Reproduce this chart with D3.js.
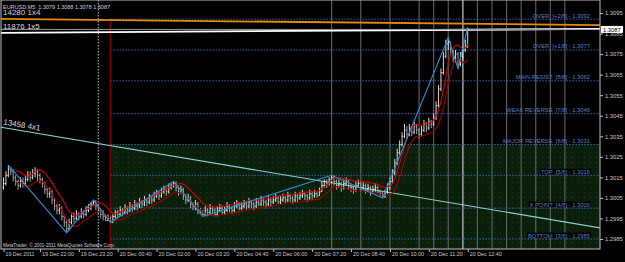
<!DOCTYPE html>
<html>
<head>
<meta charset="utf-8">
<script src="https://cdn.jsdelivr.net/npm/d3@7"></script>
<style>
  body { margin: 0; background: #000; }
  svg { display: block; font-family: "Liberation Sans", Arial, sans-serif; }
  text { white-space: pre; }
</style>
</head>
<body>
<svg id="chart" width="625" height="262"></svg>
<script>
// ---- data ----
const symbolInfo = "EURUSD,M5  1.3079 1.3088 1.3078 1.3087";
const firstBarTime = "2011-12-19 20:45";   // M5 bars, one every 5 minutes
const firstOpen = 1.3010;

const barClose = [
  1.3012,1.3016,1.3019,1.3018,1.3015,1.3013,1.3011,1.3013,1.3012,1.3014,
  1.3016,1.3015,1.3017,1.3018,1.3016,1.3014,1.3012,1.3009,1.3007,1.3008,
  1.3004,1.3001,1.2999,1.3000,1.2996,1.2993,1.2990,1.2993,1.2996,1.2995,
  1.2997,1.2996,1.2998,1.2997,1.2999,1.3000,1.3002,1.3003,1.3001,1.2999,
  1.2997,1.2996,1.2994,1.2995,1.2993,1.2996,1.2998,1.2997,1.2999,1.2998,
  1.3000,1.2999,1.3001,1.3000,1.3002,1.3001,1.3003,1.3002,1.3004,1.3003,
  1.3005,1.3004,1.3006,1.3007,1.3006,1.3008,1.3009,1.3008,1.3010,1.3011,
  1.3012,1.3010,1.3008,1.3009,1.3006,1.3004,1.3005,1.3002,1.3001,1.3002,
  1.2999,1.2998,1.2997,1.2999,1.2998,1.3000,1.2999,1.2997,1.2999,1.3000,
  1.2998,1.2999,1.3001,1.3000,1.2999,1.3001,1.3002,1.3000,1.3001,1.3002,
  1.3001,1.3003,1.3002,1.3001,1.3003,1.3002,1.3004,1.3003,1.3002,1.3004,
  1.3003,1.3004,1.3005,1.3003,1.3004,1.3005,1.3004,1.3006,1.3005,1.3004,
  1.3006,1.3005,1.3006,1.3007,1.3006,1.3005,1.3007,1.3006,1.3007,1.3006,
  1.3008,1.3011,1.3013,1.3012,1.3014,1.3015,1.3013,1.3011,1.3012,1.3010,
  1.3012,1.3013,1.3011,1.3010,1.3009,1.3011,1.3012,1.3010,1.3011,1.3009,
  1.3010,1.3008,1.3009,1.3010,1.3008,1.3007,1.3006,1.3008,1.3010,1.3013,
  1.3017,1.3022,1.3027,1.3031,1.3035,1.3038,1.3036,1.3039,1.3037,1.3040,
  1.3038,1.3036,1.3038,1.3041,1.3039,1.3042,1.3041,1.3044,1.3050,1.3058,
  1.3066,1.3074,1.3080,1.3081,1.3076,1.3073,1.3075,1.3070,1.3074,1.3077,
  1.3079,1.3087
];
const barHigh = [
  1.3015,1.3018,1.3021,1.3020,1.3019,1.3016,1.3014,1.3015,1.3015,1.3016,
  1.3018,1.3018,1.3019,1.3020,1.3019,1.3017,1.3015,1.3013,1.3010,1.3010,
  1.3009,1.3005,1.3002,1.3002,1.3001,1.2997,1.2994,1.2995,1.2997,1.2998,
  1.2999,1.2998,1.3000,1.2999,1.3001,1.3002,1.3003,1.3004,1.3004,1.3002,
  1.3000,1.2999,1.2997,1.2997,1.2996,1.2997,1.2999,1.2999,1.3001,1.3000,
  1.3002,1.3001,1.3003,1.3002,1.3004,1.3003,1.3005,1.3004,1.3006,1.3005,
  1.3007,1.3006,1.3008,1.3009,1.3008,1.3010,1.3011,1.3010,1.3012,1.3012,
  1.3013,1.3013,1.3011,1.3011,1.3010,1.3007,1.3007,1.3006,1.3003,1.3004,
  1.3003,1.3000,1.2999,1.3001,1.3000,1.3002,1.3001,1.3000,1.3001,1.3002,
  1.3001,1.3001,1.3003,1.3002,1.3001,1.3003,1.3004,1.3003,1.3003,1.3004,
  1.3003,1.3005,1.3004,1.3003,1.3005,1.3004,1.3006,1.3005,1.3004,1.3006,
  1.3005,1.3006,1.3007,1.3006,1.3006,1.3007,1.3006,1.3008,1.3007,1.3006,
  1.3008,1.3007,1.3008,1.3009,1.3008,1.3007,1.3009,1.3008,1.3009,1.3008,
  1.3010,1.3013,1.3014,1.3014,1.3015,1.3016,1.3016,1.3014,1.3014,1.3013,
  1.3014,1.3015,1.3014,1.3012,1.3011,1.3013,1.3014,1.3013,1.3013,1.3012,
  1.3012,1.3011,1.3011,1.3012,1.3011,1.3009,1.3008,1.3009,1.3012,1.3015,
  1.3019,1.3024,1.3029,1.3033,1.3037,1.3041,1.3040,1.3041,1.3040,1.3042,
  1.3041,1.3039,1.3040,1.3043,1.3042,1.3044,1.3043,1.3046,1.3052,1.3060,
  1.3068,1.3076,1.3082,1.3083,1.3081,1.3077,1.3077,1.3076,1.3076,1.3079,
  1.3082,1.3088
];
const barLow = [
  1.3009,1.3011,1.3015,1.3016,1.3013,1.3011,1.3009,1.3010,1.3010,1.3011,
  1.3013,1.3013,1.3014,1.3015,1.3013,1.3012,1.3010,1.3007,1.3005,1.3005,
  1.3002,1.2999,1.2997,1.2997,1.2994,1.2991,1.2988,1.2989,1.2992,1.2993,
  1.2994,1.2994,1.2995,1.2995,1.2996,1.2998,1.2999,1.3001,1.2999,1.2997,
  1.2995,1.2994,1.2994,1.2994,1.2993,1.2993,1.2995,1.2995,1.2996,1.2996,
  1.2997,1.2997,1.2998,1.2998,1.2999,1.2999,1.3000,1.3000,1.3001,1.3001,
  1.3002,1.3002,1.3003,1.3005,1.3004,1.3005,1.3007,1.3006,1.3007,1.3009,
  1.3010,1.3008,1.3006,1.3007,1.3004,1.3002,1.3003,1.3000,1.2999,1.2999,
  1.2997,1.2997,1.2996,1.2996,1.2996,1.2997,1.2997,1.2996,1.2996,1.2998,
  1.2997,1.2997,1.2998,1.2998,1.2997,1.2998,1.3000,1.2999,1.2999,1.3000,
  1.2999,1.3000,1.3000,1.2999,1.3000,1.3001,1.3001,1.3001,1.3000,1.3001,
  1.3001,1.3002,1.3003,1.3002,1.3002,1.3003,1.3002,1.3003,1.3003,1.3002,
  1.3003,1.3003,1.3004,1.3005,1.3004,1.3003,1.3004,1.3004,1.3005,1.3005,
  1.3006,1.3008,1.3010,1.3010,1.3011,1.3012,1.3011,1.3009,1.3010,1.3008,
  1.3009,1.3011,1.3009,1.3008,1.3007,1.3008,1.3010,1.3008,1.3009,1.3007,
  1.3008,1.3006,1.3007,1.3008,1.3007,1.3006,1.3005,1.3005,1.3007,1.3009,
  1.3012,1.3016,1.3021,1.3026,1.3030,1.3034,1.3034,1.3035,1.3035,1.3036,
  1.3036,1.3034,1.3035,1.3037,1.3037,1.3038,1.3039,1.3040,1.3043,1.3049,
  1.3057,1.3065,1.3073,1.3077,1.3074,1.3071,1.3071,1.3068,1.3069,1.3072,
  1.3076,1.3078
];

// zigzag turning points: bar index and price
const zigzagIndex = [2, 26, 37, 44, 70, 82, 135, 156, 183, 187, 191];
const zigzagPrice = [1.3021, 1.2988, 1.3004, 1.2993, 1.3013, 1.2996, 1.3016, 1.3005, 1.3083, 1.3068, 1.3088];

// Murrey math levels
const murreyNames = ["OVER  [+2/8]", "OVER  [+1/8]", "MAIN RESIST  [8/8]", "WEAK REVERSE  [7/8]",
                     "MAJOR REVERSE  [6/8]", "TOP  [5/8]", "X POINT  [4/8]", "BOTTOM  [3/8]"];
const murreyPrices = [1.3092, 1.3077, 1.3062, 1.3046, 1.3031, 1.3016, 1.3000, 1.2985];
const murreyStart = "2011-12-20 00:25";
const greenZoneTop = 1.3031;

// Gann lines
const gannLabels = ["14280 1x4", "11876 1x5", "13458 4x1"];
const gannFrom = [["2011-12-19 20:40", 1.30921], ["2011-12-19 20:40", 1.30853], ["2011-12-19 20:40", 1.30394]];
const gannTo   = [["2011-12-20 17:30", 1.30891], ["2011-12-20 17:30", 1.30873], ["2011-12-20 17:30", 1.29897]];
const gannColors = ["#e8890c", "#ffffff", "#8fcfd0"];

const bidPrice = 1.3087;
const daySeparator = "2011-12-20 00:00";
const timeLines = ["2011-12-20 08:00", "2011-12-20 09:00", "2011-12-20 10:00", "2011-12-20 11:00",
                   "2011-12-20 11:30", "2011-12-20 12:00", "2011-12-20 12:30", "2011-12-20 13:00",
                   "2011-12-20 13:30", "2011-12-20 14:00", "2011-12-20 14:30", "2011-12-20 15:00",
                   "2011-12-20 15:30", "2011-12-20 16:00"];

const priceTicks = [1.2985, 1.2995, 1.3005, 1.3015, 1.3025, 1.3035, 1.3045, 1.3055, 1.3065, 1.3075, 1.3085, 1.3095];
const timeTicks = ["2011-12-19 20:45", "2011-12-19 22:00", "2011-12-19 23:20", "2011-12-20 00:40", "2011-12-20 02:00",
                   "2011-12-20 03:20", "2011-12-20 04:40", "2011-12-20 06:00", "2011-12-20 07:20",
                   "2011-12-20 08:40", "2011-12-20 10:00", "2011-12-20 11:20", "2011-12-20 12:40"];
const timeLabels = ["19 Dec 2011", "19 Dec 22:00", "19 Dec 23:20", "20 Dec 00:40", "20 Dec 02:00",
                    "20 Dec 03:20", "20 Dec 04:40", "20 Dec 06:00", "20 Dec 07:20",
                    "20 Dec 08:40", "20 Dec 10:00", "20 Dec 11:20", "20 Dec 12:40"];
const copyright = "MetaTrader, © 2001-2011 MetaQuotes Software Corp.";

// ---- layout ----
const W = 625, H = 262;
const plot = { left: 1, right: 600, top: 0, bottom: 249 };
const fontCss = "Liberation Sans, Arial, sans-serif";

const parseTime = d3.timeParse("%Y-%m-%d %H:%M");
const t0 = parseTime(firstBarTime);
const barTimes = barClose.map((d, i) => d3.timeMinute.offset(t0, 5 * i));
const barOpen = barClose.map((d, i) => i === 0 ? firstOpen : barClose[i - 1]);

const x = d3.scaleTime()
  .domain([t0, barTimes[barTimes.length - 1]])
  .range([3.5, 467.7]);
const y = d3.scaleLinear()
  .domain([1.2985, 1.3095])
  .range([239, 13]);

const svg = d3.select("#chart");
svg.append("rect").attr("width", W).attr("height", H).attr("fill", "#000");

const defs = svg.append("defs");
defs.append("clipPath").attr("id", "plotClip")
  .append("rect")
  .attr("x", plot.left).attr("y", plot.top)
  .attr("width", plot.right - plot.left).attr("height", plot.bottom - plot.top);
const dots = defs.append("pattern").attr("id", "dots")
  .attr("width", 6).attr("height", 5).attr("patternUnits", "userSpaceOnUse");
dots.append("rect").attr("width", 6).attr("height", 5).attr("fill", "#0a1f0a");
dots.append("rect").attr("x", 2).attr("y", 2).attr("width", 1).attr("height", 1).attr("fill", "#243824");

const g = svg.append("g").attr("clip-path", "url(#plotClip)");

// green zone below the 6/8 level
const xm = x(parseTime(murreyStart));
g.append("rect")
  .attr("x", xm).attr("y", y(greenZoneTop))
  .attr("width", plot.right - xm).attr("height", plot.bottom - y(greenZoneTop))
  .attr("fill", "url(#dots)");

// day separator
g.append("line")
  .attr("x1", x(parseTime(daySeparator))).attr("x2", x(parseTime(daySeparator)))
  .attr("y1", plot.top).attr("y2", plot.bottom)
  .attr("stroke", "#b8b8b8").attr("stroke-dasharray", "1.5,1.5");

// time lines
g.append("g").selectAll("line")
  .data(timeLines)
  .enter()
  .append("line")
  .attr("x1", d => x(parseTime(d))).attr("x2", d => x(parseTime(d)))
  .attr("y1", plot.top).attr("y2", plot.bottom)
  .attr("stroke", d => d.endsWith("12:30") ? "#9a9a9a" : "#5e6462")
  .attr("stroke-width", d => d.endsWith("12:30") ? 1.6 : 1.1);

// murrey levels
g.append("g").selectAll("line")
  .data(murreyPrices)
  .enter()
  .append("line")
  .attr("x1", xm).attr("x2", plot.right)
  .attr("y1", d => y(d)).attr("y2", d => y(d))
  .attr("stroke", "#3d63b3").attr("stroke-dasharray", "1.5,1.5");

// murrey start line
g.append("line")
  .attr("x1", xm).attr("x2", xm)
  .attr("y1", y(murreyPrices[0])).attr("y2", plot.bottom)
  .attr("stroke", "#7a0000").attr("stroke-width", 1.6);

// gann lines
gannLabels.forEach((name, i) =>
{
  g.append("line")
    .attr("x1", x(parseTime(gannFrom[i][0]))).attr("y1", y(gannFrom[i][1]))
    .attr("x2", x(parseTime(gannTo[i][0]))).attr("y2", y(gannTo[i][1]))
    .attr("stroke", gannColors[i])
    .attr("stroke-width", i === 2 ? 1.2 : 1.8);
});

// bid line
g.append("line")
  .attr("x1", plot.left).attr("x2", plot.right)
  .attr("y1", y(bidPrice)).attr("y2", y(bidPrice))
  .attr("stroke", "#9a9a9a");

// OHLC bars
g.append("g")
  .selectAll("path")
  .data(barClose)
  .enter()
  .append("path")
  .attr("d", (d, i) =>
  {
    const bx = x(barTimes[i]);
    return `M${ bx },${ y(barHigh[i]) }V${ y(barLow[i]) }` +
      `M${ bx - 1 },${ y(barOpen[i]) }H${ bx }` +
      `M${ bx },${ y(d) }H${ bx + 1 }`;
  })
  .attr("fill", "none")
  .attr("stroke", (d, i) => d >= barOpen[i] ? "#eeeeee" : "#b4b4b4")
  .attr("stroke-width", 0.9);

// moving-average channel: averages of highs and of lows
const sma = (arr, n) => arr.map((d, i) => i < n - 1 ? null : d3.mean(arr.slice(i - n + 1, i + 1)));
const maLine = d3.line()
  .defined(d => d !== null)
  .x((d, i) => x(barTimes[i]))
  .y(d => y(d))
  .curve(d3.curveMonotoneX);
[[barHigh, "#d80000"], [barLow, "#a40000"]].forEach(([arr, color]) =>
{
  g.append("path")
    .attr("d", maLine(sma(arr, 6)))
    .attr("fill", "none")
    .attr("stroke", color)
    .attr("stroke-width", 1.1);
});

// zigzag
g.append("path")
  .attr("d", d3.line()(zigzagIndex.map((b, i) => [x(barTimes[b]), y(zigzagPrice[i])])))
  .attr("fill", "none")
  .attr("stroke", "#2a8fd8")
  .attr("stroke-width", 1.1);

// murrey labels
const mLabels = g.append("g")
  .style("font-size", "5.8px")
  .selectAll("g")
  .data(murreyPrices)
  .enter()
  .append("g");
mLabels.append("text")
  .attr("x", 590)
  .attr("y", d => y(d) - 1.5)
  .attr("text-anchor", "end")
  .attr("fill", "#5a7ec4")
  .text((d, i) => `${ murreyNames[i] } - ${ d.toFixed(4) }`)
  .each(function (d)
  {
    if (d < greenZoneTop)
    {
      const b = this.getBBox();
      d3.select(this.parentNode).insert("rect", "text")
        .attr("x", b.x - 1).attr("y", b.y)
        .attr("width", b.width + 2).attr("height", b.height - 0.5)
        .attr("fill", "#000");
    }
  });

// gann labels
const gl = svg.append("g").style("font-size", "8px").attr("fill", "#d8d8d8");
gl.append("text").attr("x", 3).attr("y", y(gannFrom[0][1]) - 4).text(gannLabels[0]);
gl.append("text").attr("x", 3).attr("y", y(gannFrom[1][1]) - 4).text(gannLabels[1]);
{
  const x1 = x(parseTime(gannFrom[2][0])), y1 = y(gannFrom[2][1]);
  const x2 = x(parseTime(gannTo[2][0])), y2 = y(gannTo[2][1]);
  const angle = Math.atan2(y2 - y1, x2 - x1) * 180 / Math.PI;
  const ty = y1 + (3 - x1) * (y2 - y1) / (x2 - x1) - 3;
  gl.append("text")
    .attr("transform", `translate(3,${ ty }) rotate(${ angle })`)
    .text(gannLabels[2]);
}

// title and copyright
svg.append("text").attr("x", 3).attr("y", 8.5)
  .style("font-size", "6.2px").attr("fill", "#d0d0d0")
  .attr("textLength", 107).attr("lengthAdjust", "spacingAndGlyphs")
  .text(symbolInfo);
svg.append("text").attr("x", 3).attr("y", 247)
  .style("font-size", "5.8px").attr("fill", "#d0d0d0")
  .attr("textLength", 112).attr("lengthAdjust", "spacingAndGlyphs")
  .text(copyright);

// frame
svg.append("rect")
  .attr("x", plot.left).attr("y", plot.top)
  .attr("width", plot.right - plot.left).attr("height", plot.bottom - plot.top)
  .attr("fill", "none").attr("stroke", "#c0c0c0");

// price axis
const yAxis = svg.append("g")
  .attr("transform", `translate(${ plot.right },0)`)
  .call(d3.axisRight(y).tickValues(priceTicks).tickFormat(d3.format(".4f")).tickSize(3).tickPadding(2));
yAxis.select(".domain").remove();
yAxis.selectAll("line").attr("stroke", "#c0c0c0");
yAxis.selectAll("text").attr("fill", "#c8c8c8").style("font-size", "5.8px").style("font-family", fontCss);

// bid price box
svg.append("rect")
  .attr("x", plot.right + 1).attr("y", y(bidPrice) - 3.5)
  .attr("width", 22).attr("height", 7).attr("fill", "#fff");
svg.append("text")
  .attr("x", plot.right + 3).attr("y", y(bidPrice) + 2.2)
  .style("font-size", "5.8px").attr("fill", "#000").text(bidPrice.toFixed(4));

// time axis
const xAxis = svg.append("g")
  .attr("transform", `translate(0,${ plot.bottom })`)
  .call(d3.axisBottom(x).tickValues(timeTicks.map(parseTime)).tickFormat((d, i) => timeLabels[i]).tickSize(3));
xAxis.select(".domain").remove();
xAxis.selectAll("line").attr("stroke", "#c0c0c0");
xAxis.selectAll("text")
  .attr("text-anchor", "start")
  .attr("x", 1.5)
  .attr("y", 3)
  .attr("fill", "#c8c8c8")
  .attr("textLength", (d, i) => i === 0 ? 29 : 32)
  .attr("lengthAdjust", "spacingAndGlyphs")
  .style("font-size", "6px")
  .style("font-family", fontCss);
</script>
</body>
</html>
